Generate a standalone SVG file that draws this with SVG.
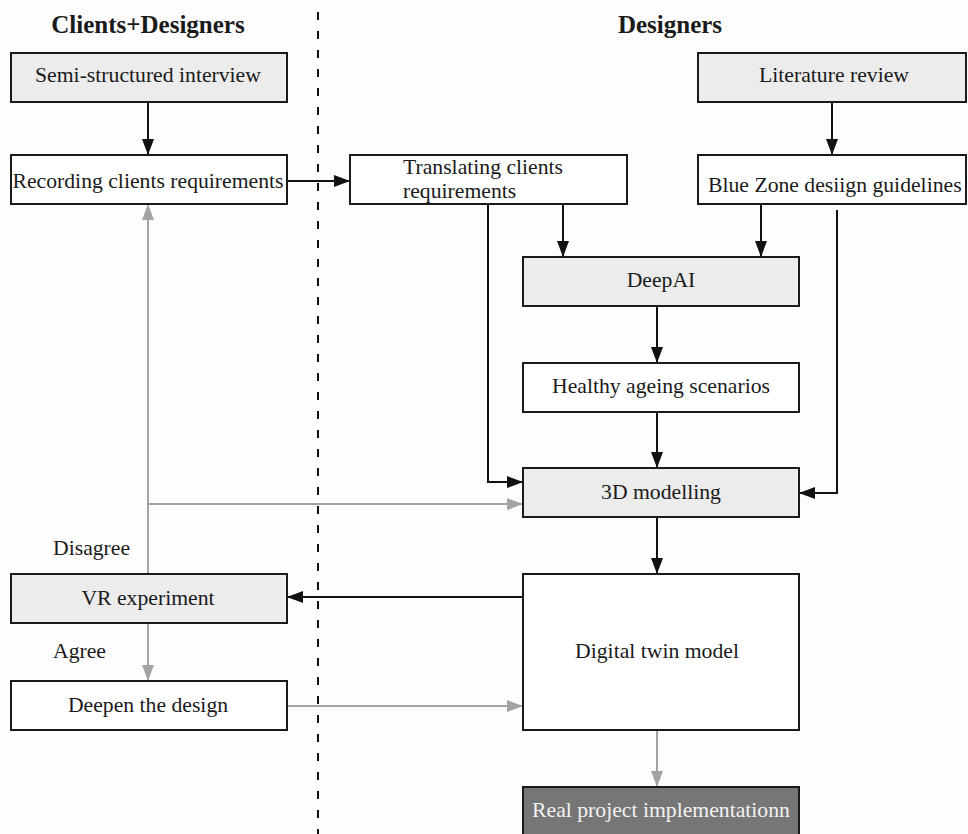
<svg xmlns="http://www.w3.org/2000/svg" width="968" height="834" viewBox="0 0 968 834">
<defs>
<style>
.box{fill:#ffffff;stroke:#1a1a1a;stroke-width:2}
.gbox{fill:#ececec;stroke:#1a1a1a;stroke-width:2}
.dbox{fill:#767676;stroke:#1a1a1a;stroke-width:2}
.t{font-family:"Liberation Serif","Times New Roman",serif;font-size:21.7px;fill:#1a1a1a}
.tc{text-anchor:middle}
.tw{fill:#f2f2f2}
.h{font-family:"Liberation Serif","Times New Roman",serif;font-size:25px;font-weight:bold;fill:#1a1a1a;text-anchor:middle}
.bl{fill:none;stroke:#111;stroke-width:2;marker-end:url(#ab)}
.gl{fill:none;stroke:#a3a3a3;stroke-width:2;marker-end:url(#ag)}
.gn{fill:none;stroke:#a3a3a3;stroke-width:2}
</style>
<marker id="ab" markerUnits="userSpaceOnUse" markerWidth="16" markerHeight="12" refX="16" refY="6" orient="auto"><path d="M0,0 L16,6 L0,12 z" fill="#111"/></marker>
<marker id="ag" markerUnits="userSpaceOnUse" markerWidth="16" markerHeight="12" refX="16" refY="6" orient="auto"><path d="M0,0 L16,6 L0,12 z" fill="#a3a3a3"/></marker>
</defs>
<rect x="0" y="0" width="968" height="834" fill="#fdfdfd"/>
<g id="headers">
<text class="h" x="148" y="33">Clients+Designers</text>
<text class="h" x="670" y="33">Designers</text>
</g>
<line id="divider" x1="318" y1="12" x2="318" y2="834" stroke="#111" stroke-width="2" stroke-dasharray="8 11"/>
<g id="connectors">
<path class="bl" d="M148,102 V155"/>
<path class="bl" d="M832,102 V155"/>
<path class="bl" d="M287,181 H350"/>
<path class="bl" d="M563,204 V257"/>
<path class="bl" d="M761,204 V257"/>
<path class="bl" d="M488,204 V482 H523"/>
<path class="bl" d="M837,210 V493 H799"/>
<path class="bl" d="M657,306 V363"/>
<path class="bl" d="M657,412 V468"/>
<path class="bl" d="M657,517 V574"/>
<path class="bl" d="M523,597 H287"/>
<path class="gl" d="M148,574 V204"/>
<path class="gl" d="M148,504 H523"/>
<path class="gl" d="M148,623 V681"/>
<path class="gl" d="M287,706 H523"/>
<path class="gl" d="M657,730 V787"/>
</g>
<g id="semi"><rect class="gbox" x="11" y="53" width="276" height="49"/><text class="t tc" x="148" y="82">Semi-structured interview</text></g>
<g id="recording"><rect class="box" x="11" y="155" width="276" height="49"/><text class="t tc" x="148" y="188">Recording clients requirements</text></g>
<g id="literature"><rect class="gbox" x="698" y="53" width="268" height="49"/><text class="t tc" x="834" y="82">Literature review</text></g>
<g id="translating"><rect class="box" x="350" y="155" width="277" height="49"/><text class="t" x="403" y="174">Translating clients</text><text class="t" x="403" y="198">requirements</text></g>
<g id="bluezone"><rect class="box" x="698" y="155" width="268" height="49"/><text class="t" x="708" y="192">Blue Zone desiign guidelines</text></g>
<g id="deepai"><rect class="gbox" x="523" y="257" width="276" height="49"/><text class="t tc" x="661" y="287">DeepAI</text></g>
<g id="healthy"><rect class="box" x="523" y="363" width="276" height="49"/><text class="t tc" x="661" y="393">Healthy ageing scenarios</text></g>
<g id="modelling"><rect class="gbox" x="523" y="468" width="276" height="49"/><text class="t tc" x="661" y="499">3D modelling</text></g>
<g id="digital"><rect class="box" x="523" y="574" width="276" height="156"/><text class="t tc" x="657" y="658">Digital twin model</text></g>
<g id="real"><rect class="dbox" x="523" y="787" width="276" height="60"/><text class="t tc tw" x="661" y="817">Real project implementationn</text></g>
<g id="vr"><rect class="gbox" x="11" y="574" width="276" height="49"/><text class="t tc" x="148" y="605">VR experiment</text></g>
<g id="deepen"><rect class="box" x="11" y="681" width="276" height="49"/><text class="t tc" x="148" y="712">Deepen the design</text></g>
<g id="labels">
<text class="t" x="53" y="555">Disagree</text>
<text class="t" x="53" y="658">Agree</text>
</g>
</svg>
